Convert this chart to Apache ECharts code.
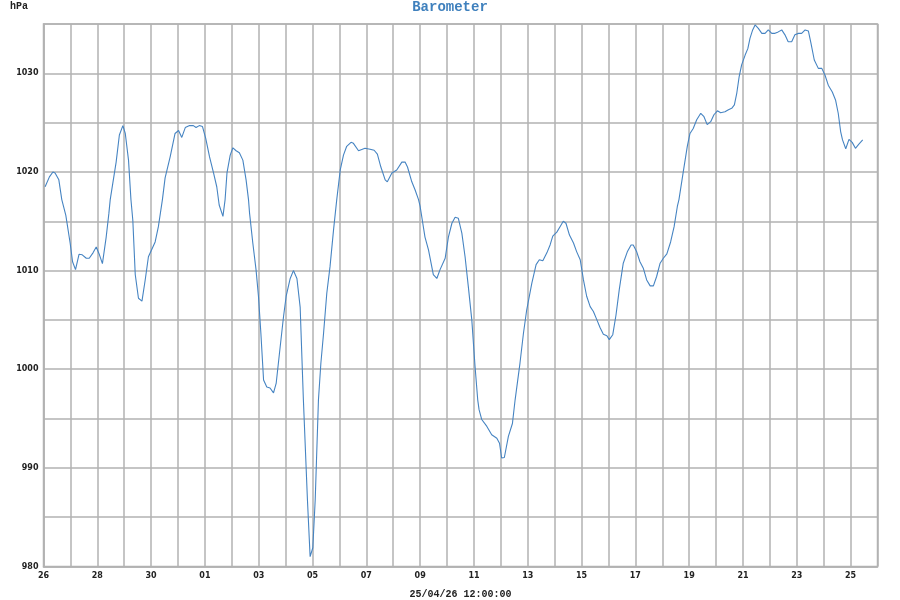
<!DOCTYPE html>
<html><head><meta charset="utf-8">
<script src="https://cdn.jsdelivr.net/npm/echarts@6/dist/echarts.min.js"></script>
<style>html,body{margin:0;padding:0;background:#fff}#c{width:900px;height:600px}</style>
</head><body><div id="c"></div>
<script>
// x = days since 26 Mar 00:00
const dayOffsets = [0.06,0.22,0.35,0.43,0.57,0.68,0.83,0.99,1.08,1.19,1.32,1.44,1.59,1.70,1.84,1.96,2.08,2.19,2.33,2.43,2.48,2.70,2.82,2.95,3.04,3.16,3.25,3.32,3.41,3.53,3.66,3.78,3.90,4.15,4.27,4.42,4.52,4.71,4.89,5.02,5.14,5.27,5.43,5.57,5.67,5.79,5.91,6.03,6.17,6.32,6.44,6.53,6.67,6.75,6.82,6.94,7.04,7.16,7.28,7.41,7.53,7.62,7.66,7.78,7.90,7.99,8.08,8.18,8.30,8.42,8.55,8.65,8.77,8.92,9.02,9.17,9.29,9.42,9.54,9.66,9.81,9.91,10.01,10.10,10.22,10.31,10.41,10.53,10.65,10.78,10.90,11.03,11.15,11.27,11.43,11.52,11.71,11.95,12.14,12.29,12.41,12.54,12.70,12.78,12.95,13.13,13.32,13.44,13.53,13.69,13.81,13.94,14.00,14.18,14.31,14.49,14.62,14.74,14.93,15.05,15.18,15.30,15.42,15.55,15.67,15.79,15.92,16.04,16.14,16.19,16.29,16.48,16.66,16.85,16.95,17.03,17.13,17.28,17.43,17.53,17.71,17.84,17.96,18.15,18.31,18.43,18.56,18.71,18.83,18.93,19.08,19.20,19.32,19.42,19.55,19.70,19.82,19.95,20.07,20.19,20.32,20.44,20.57,20.69,20.81,20.94,21.03,21.16,21.28,21.40,21.55,21.70,21.84,21.92,22.05,22.17,22.30,22.42,22.55,22.67,22.79,22.92,23.04,23.17,23.31,23.44,23.56,23.62,23.78,23.93,24.03,24.15,24.28,24.43,24.55,24.67,24.80,24.92,25.05,25.17,25.33,25.46,25.58,25.68,25.77,25.86,25.95,26.08,26.18,26.26,26.36,26.45,26.57,26.70,26.82,26.94,27.07,27.19,27.31,27.44,27.56,27.68,27.81,27.93,28.06,28.18,28.31,28.43,28.53,28.65,28.80,28.93,29.05,29.17,29.32,29.44,29.54,29.63,29.70,29.82,29.94,30.06,30.18,30.30,30.45];
const pressure = [1018.5,1019.5,1020.0,1019.9,1019.2,1017.2,1015.6,1012.8,1010.9,1010.1,1011.65,1011.6,1011.25,1011.25,1011.8,1012.4,1011.6,1010.7,1013.4,1015.8,1017.2,1021.0,1023.75,1024.7,1023.9,1021.2,1017.2,1015.1,1009.6,1007.2,1006.9,1009.05,1011.4,1012.9,1014.45,1017.2,1019.4,1021.55,1023.9,1024.2,1023.5,1024.5,1024.7,1024.7,1024.5,1024.7,1024.6,1023.4,1021.55,1019.9,1018.5,1016.65,1015.5,1017.2,1019.9,1021.7,1022.45,1022.15,1021.95,1021.2,1019.2,1017.2,1015.8,1012.8,1010.1,1007.4,1003.65,998.9,998.2,998.1,997.6,998.6,1001.6,1005.3,1007.4,1009.2,1010.0,1009.2,1006.3,996.9,986.8,981.0,981.9,986.8,996.9,1000.6,1003.65,1007.7,1010.4,1014.1,1017.2,1020.2,1021.7,1022.6,1023.0,1022.9,1022.15,1022.4,1022.3,1022.2,1021.8,1020.5,1019.2,1019.0,1019.9,1020.2,1021.0,1021.0,1020.5,1019.0,1018.2,1017.2,1016.5,1013.4,1012.1,1009.6,1009.2,1010.1,1011.25,1013.4,1014.8,1015.4,1015.3,1013.8,1011.4,1008.4,1005.0,1000.3,996.9,995.9,994.9,994.2,993.35,993.0,992.5,991.0,991.05,993.2,994.5,996.9,1000.6,1003.65,1006.0,1008.7,1010.6,1011.1,1011.0,1011.8,1012.6,1013.5,1013.9,1014.45,1015.0,1014.8,1013.6,1012.8,1011.9,1011.1,1009.05,1007.4,1006.35,1005.85,1005.0,1004.2,1003.55,1003.4,1003.0,1003.5,1005.5,1008.05,1010.75,1011.9,1012.6,1012.6,1011.9,1010.9,1010.2,1009.05,1008.45,1008.45,1009.4,1010.75,1011.25,1011.7,1012.9,1014.45,1016.5,1017.2,1020.0,1022.6,1023.9,1024.4,1025.3,1025.95,1025.6,1024.8,1025.1,1025.8,1026.2,1026.0,1026.1,1026.3,1026.45,1026.8,1028.0,1029.7,1030.85,1031.85,1032.5,1033.55,1034.4,1034.9,1034.55,1034.05,1034.05,1034.4,1034.05,1034.05,1034.2,1034.4,1033.9,1033.2,1033.2,1033.9,1034.05,1034.05,1034.4,1034.3,1033.0,1031.35,1030.5,1030.5,1029.8,1028.8,1028.1,1027.3,1025.95,1024.1,1023.25,1022.35,1023.3,1023.0,1022.4,1022.8,1023.25];
const dayLabels = ['26','28','30','01','03','05','07','09','11','13','15','17','19','21','23','25'];
const yLabels = ['980','990','1000','1010','1020','1030'];
const titleText = 'Barometer';
const unitText = 'hPa';
const axisName = '25/04/26 12:00:00';

const data = dayOffsets.map((d, i) => [d, pressure[i]]);
const gridColor = '#b2b2b2';
const chart = echarts.init(document.getElementById('c'), null, {renderer: 'canvas'});
chart.setOption({
  animation: false,
  backgroundColor: '#fff',
  title: [
    {text: titleText, left: 'center', top: 0, padding: 0,
     textStyle: {fontFamily: 'Liberation Mono', fontWeight: 'bold', fontSize: 14, color: '#3f80bd'}},
    {text: unitText, left: 10, top: 1, padding: 0,
     textStyle: {fontFamily: 'Liberation Mono', fontWeight: 'bold', fontSize: 10, color: '#222'}}
  ],
  grid: {left: 43.5, right: 22.5, top: 24, bottom: 33.5, outerBoundsMode: 'none', containLabel: false,
         show: true, borderColor: gridColor, borderWidth: 1.5},
  xAxis: {
    type: 'value', min: 0, max: 31, interval: 1,
    name: axisName, nameLocation: 'middle', nameGap: 23,
    nameTextStyle: {fontFamily: 'Liberation Mono', fontWeight: 'bold', fontSize: 10, color: '#222'},
    axisLine: {show: true, lineStyle: {color: gridColor, width: 1.5}},
    axisTick: {show: false},
    splitLine: {show: true, lineStyle: {color: gridColor, width: 1.5}},
    axisLabel: {
      margin: 5, fontFamily: 'DejaVu Sans', fontWeight: 'bold', fontSize: 8, color: '#222',
      formatter: v => (v % 2 === 0 && v / 2 < dayLabels.length) ? dayLabels[v / 2] : ''
    }
  },
  yAxis: {
    type: 'value', min: 980, max: 1035, interval: 5,
    axisLine: {show: true, lineStyle: {color: gridColor, width: 1.5}},
    axisTick: {show: false},
    splitLine: {show: true, lineStyle: {color: gridColor, width: 1.5}},
    axisLabel: {
      margin: 5, fontFamily: 'DejaVu Sans', fontWeight: 'bold', fontSize: 8, color: '#222',
      formatter: v => { const i = (v - 980) / 10; return Number.isInteger(i) ? yLabels[i] : ''; }
    }
  },
  series: [{
    type: 'line', data: data, showSymbol: false, smooth: false,
    lineStyle: {color: '#4684c2', width: 1.1}
  }]
});
</script></body></html>
